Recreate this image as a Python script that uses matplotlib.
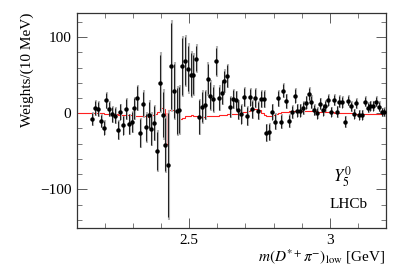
import numpy as np
import matplotlib
matplotlib.use("Agg")
import matplotlib.pyplot as plt
from matplotlib.ticker import MultipleLocator, FixedLocator, FixedFormatter

# Data: bin centres 2.155 ... 3.195 GeV (10 MeV bins)
x_first = 2.155
bin_w = 0.01

weights = [
    -8, 7, 5.5, -10, -19, 17, 5.5, -1.5, -3, -22,
    1.7, -16, 5.5, -14.5, -11.5, 6.3, 20.3, -26, 12.3, -18.5,
    -1.8, -21, -12.8, -49.5, 40, -1.8, -41, -68, 62, 29,
    3, 4.5, 61.5, 68.5, 58.7, 50.8, 50.8, 71.8, -5, 8.3,
    10.8, 44.8, 23, 18.6, 68, 19.8, 27.2, 42, 49, 8,
    18.6, 16.8, 4.2, -1.5, 21, -3.2, 21, 5, 19.6, 3.5,
    18.6, 18.6, -25.7, -24.6, 1.7, -11, 19.7, -11, 29.7, 15.8,
    -9.7, 1.3, 22.8, 3.5, 3.5, 6.6, 14, 25.4, 14.5, 4.3,
    0, 12.6, 3.9, 9.6, 17, 1.7, 17.5, 2.1, 15.3, 14.5,
    -11, 16.6, 9.2, -0.9, 13, -2.2, -2.2, 15.3, 7.4, 9.6,
    9.6, 15.3, 8.7, 1.3, 1.7,
]

stat_err = [
    8, 9, 9, 8, 9, 10, 9, 10, 10, 12,
    10, 12, 13, 13, 13, 14, 16, 18, 16, 18,
    17, 20, 22, 25, 37, 30, 35, 68, 56, 35,
    30, 30, 37, 31, 30, 28, 25, 17, 22, 20,
    18, 20, 18, 16, 18, 15, 15, 14, 14, 13,
    12, 12, 12, 12, 12, 12, 11, 11, 12, 11,
    11, 11, 11, 11, 10, 10, 10, 9, 9, 9,
    8, 8, 9, 8, 8, 8, 8, 8, 8, 7,
    7, 7, 7, 7, 7, 6, 7, 7, 7, 7,
    7, 6, 6, 6, 6, 6, 6, 6, 6, 6,
    6, 6, 6, 5, 5,
]

tot_err = [
    9, 10, 10, 9, 10, 11, 10, 11, 11, 13,
    11, 13, 14, 14, 14, 15, 17, 20, 18, 20,
    19, 22, 24, 27, 40, 33, 38, 72, 60, 38,
    33, 33, 40, 34, 33, 31, 28, 19, 24, 22,
    20, 22, 20, 18, 20, 17, 17, 16, 16, 14,
    13, 13, 13, 13, 13, 13, 12, 12, 13, 12,
    12, 12, 12, 12, 11, 11, 11, 10, 10, 10,
    9, 9, 10, 9, 9, 9, 9, 9, 9, 8,
    8, 8, 8, 8, 8, 7, 8, 8, 8, 8,
    8, 7, 7, 7, 7, 7, 7, 7, 7, 7,
    7, 7, 7, 6, 6,
]

# Model projection (red histogram), bins starting at 2.105 GeV
red_first = 2.105
model = [
    0.5, 0.5, 0.5, 0.5, 0.5, 0.5, 0.3, 0, -0.3, -0.5,
    -0.8, -1, -1.3, -1.5, -1.8, -2, -2.2, -2.5, -2.8, -3,
    -3.3, -3.6, -4, -4.2, -4.4, -3.5, -2, -1.5, 1, 6.5,
    5, -40, 4.3, 4, 2, -2, -7.5, -6, -4, -3,
    -2.5, -3, -4, -4.5, -4.5, -4, -4, -3.5, -3, -3,
    -2.5, -2, -2, -1.5, -1, -0.5, -0.5, 0, 1, 2,
    3, 4.5, 5.5, 5, 4, 0, -2, -3.5, -3, -2.5,
    -1.5, 0, 1, 1, 2, 3, 3.5, 3.5, 3.5, 3,
    3, 3, 2.5, 2.5, 2.5, 2, 2, 2, 1.5, 1,
    1, 0.5, 0.5, 0.5, 0.5, 0, 0, 0, -0.5, -0.5,
    -0.5, -0.5, -0.5, -0.5, -0.5, -0.5, -0.5, -0.5, -0.5, -0.5,
]
model_band_up = [0.0] * len(model)
model_band_up[31] = 40

plt.rcParams["font.family"] = ["Liberation Serif", "DejaVu Serif"]
plt.rcParams["mathtext.fontset"] = "stix"

x = x_first + bin_w * np.arange(len(weights))
edges = red_first + bin_w * np.arange(len(model) + 1)
model = np.array(model)
band_up = np.array(model_band_up)

fig = plt.figure(figsize=(4.07, 2.77), dpi=100)
ax = fig.add_axes([0.189, 0.177, 0.759, 0.776])

# model band and line
ax.fill_between(edges[:-1], model, model + band_up, step="post",
                color="#ffaaaa", alpha=0.8, lw=0, zorder=1)
ax.stairs(model, edges, color="#ff2020", lw=0.8, zorder=2)

# total uncertainties (grey) and statistical (black)
ax.errorbar(x + 0.0035, weights, yerr=tot_err, fmt="none",
            ecolor="#b4b4b4", elinewidth=1.5, capsize=0, zorder=3)
ax.errorbar(x, weights, yerr=stat_err, fmt="o", color="black",
            ecolor="#222222", ms=2.2, elinewidth=0.75, capsize=0, zorder=4)

ax.set_xlim(2.1, 3.2)
ax.set_ylim(-150.5, 131.5)

ax.xaxis.set_major_locator(FixedLocator([2.5, 3.0]))
ax.xaxis.set_major_formatter(FixedFormatter(["2.5", "3"]))
ax.xaxis.set_minor_locator(MultipleLocator(0.1))
ax.yaxis.set_major_locator(MultipleLocator(100))
ax.yaxis.set_minor_locator(MultipleLocator(20))

ax.tick_params(which="both", direction="in", top=True, right=True,
               labelsize=11, colors="#444444", labelcolor="black")
ax.tick_params(which="major", length=7, width=0.6, pad=4)
ax.tick_params(which="minor", length=3.5, width=0.5)
for sp in ax.spines.values():
    sp.set_linewidth(0.9)
    sp.set_color("#333333")

ax.set_ylabel("Weights/(10 MeV)", fontsize=11, loc="top", labelpad=4)
ax.set_xlabel(r"$m(D^{*+}\pi^{-})_{\rm low}$ [GeV]", fontsize=11,
              loc="right", labelpad=0)

ax.text(0.83, 0.24, r"$\mathit{Y}_{\mathit{5}}^{\mathit{0}}$",
        transform=ax.transAxes, fontsize=12, ha="left", va="center")
ax.text(0.818, 0.11, "LHCb", transform=ax.transAxes, fontsize=11,
        ha="left", va="center")

fig.savefig("out.png", dpi=100)
